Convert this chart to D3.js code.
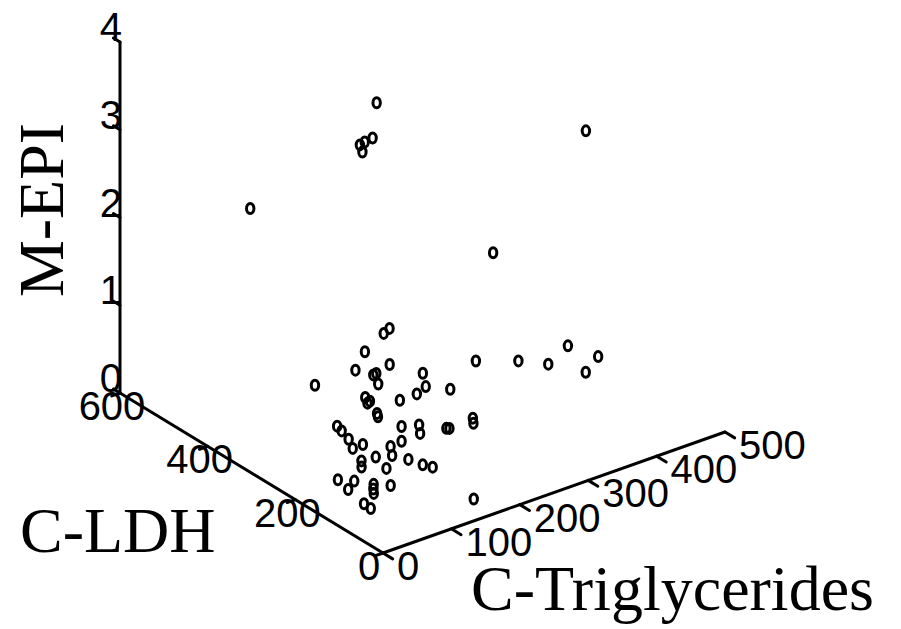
<!DOCTYPE html>
<html>
<head>
<meta charset="utf-8">
<script src="https://d3js.org/d3.v7.min.js"></script>
<style>
  body { margin: 0; background: #fff; }
  svg { display: block; }
  .axis-line { stroke: #000; stroke-width: 3; fill: none; stroke-linecap: round; }
  .tick-num { font-family: "Liberation Sans", Arial, sans-serif; font-size: 40px; fill: #000; }
  .axis-title { font-family: "Liberation Serif", "Times New Roman", serif; font-size: 64px; fill: #000; }
</style>
</head>
<body>
<svg width="901" height="629"></svg>
<script>
var svg = d3.select("svg");

// C-Triglycerides, C-LDH, M-EPI for each patient
var triglycerides = [265, 469, 261, 252, 261, 257, 134, 318, 214, 201,
  169, 419, 444, 271, 337, 373, 422, 186, 159, 155,
  160, 159, 230, 112, 231, 199, 193, 181, 140, 152,
  160, 140, 149, 156, 188, 176, 208, 224, 248, 254,
  97, 94, 101, 91, 93, 129, 130, 147, 99, 80,
  84, 105, 139, 144, 163, 43, 56, 51, 69, 75,
  82, 83, 44, 43, 166];
var ldh = [428, 269, 431, 446, 449, 448, 512, 245, 319, 312,
  305, 232, 202, 211, 217, 205, 196, 275, 311, 264,
  265, 259, 268, 330, 207, 213, 224, 244, 259, 267,
  285, 232, 244, 201, 211, 190, 180, 198, 182, 190,
  256, 241, 236, 211, 191, 184, 182, 187, 171, 174,
  180, 156, 159, 134, 141, 170, 153, 159, 129, 139,
  149, 112, 112, 95, 52];
var epi = [3.1, 2.7, 2.7, 2.6, 2.6, 2.5, 2.0, 1.8, 1.0, 1.0,
  0.9, 0.5, 0.4, 0.8, 0.6, 0.5, 0.3, 0.8, 0.7, 0.8,
  0.8, 0.7, 0.6, 0.6, 0.6, 0.7, 0.6, 0.5, 0.6, 0.5,
  0.4, 0.5, 0.4, 0.4, 0.3, 0.3, 0.3, 0.2, 0.3, 0.2,
  0.4, 0.4, 0.3, 0.3, 0.4, 0.3, 0.2, 0.3, 0.3, 0.3,
  0.2, 0.2, 0.2, 0.2, 0.1, 0.2, 0.2, 0.1, 0.2, 0.1,
  0.0, 0.2, 0.1, 0.1, 0.0];

var trigTicks = [0, 100, 200, 300, 400, 500];
var ldhTicks = [0, 200, 400, 600];
var epiTicks = [0, 1, 2, 3, 4];

// oblique projection of the 3d box onto the page
var origin = [383, 553];
var trigX = d3.scaleLinear().domain([0, 500]).range([0, 342]);
var trigY = d3.scaleLinear().domain([0, 500]).range([0, -121]);
var ldhX = d3.scaleLinear().domain([0, 600]).range([0, -263]);
var ldhY = d3.scaleLinear().domain([0, 600]).range([0, -160]);
var epiY = d3.scaleLinear().domain([0, 4]).range([0, -351]);

function proj(t, l, e) {
  return [origin[0] + trigX(t) + ldhX(l),
          origin[1] + trigY(t) + ldhY(l) + epiY(e)];
}

var line = d3.line();

// axis lines
var axes = [
  [proj(0, 0, 0), proj(500, 0, 0)],
  [proj(0, 0, 0), proj(0, 600, 0)],
  [proj(0, 600, 0), proj(0, 600, 4)]
];
svg.append("g").selectAll("path")
  .data(axes)
  .enter().append("path")
    .attr("class", "axis-line")
    .attr("d", line);

// ticks
var g = svg.append("g");
g.selectAll(".ttick")
  .data(trigTicks)
  .enter().append("path")
    .attr("class", "axis-line ttick")
    .attr("d", function(d) { return line([proj(d, 0, 0), proj(d, -22, 0)]); });
g.selectAll(".ltick")
  .data(ldhTicks)
  .enter().append("path")
    .attr("class", "axis-line ltick")
    .attr("d", function(d) { return line([proj(0, d, 0), proj(-12, d, 0)]); });
g.selectAll(".etick")
  .data(epiTicks)
  .enter().append("path")
    .attr("class", "axis-line etick")
    .attr("d", function(d) { return line([proj(0, 600, d), proj(0, 615, d)]); });

// tick labels
g.selectAll(".tlab")
  .data(trigTicks)
  .enter().append("text")
    .attr("class", "tick-num tlab")
    .attr("x", function(d) { return proj(d, 0, 0)[0] + 14; })
    .attr("y", function(d) { return proj(d, 0, 0)[1] + 27; })
    .attr("text-anchor", "start")
    .text(function(d) { return d; });
g.selectAll(".llab")
  .data(ldhTicks)
  .enter().append("text")
    .attr("class", "tick-num llab")
    .attr("x", function(d) { return proj(0, d, 0)[0] - (d == 0 ? 14 : 8); })
    .attr("y", function(d) { return proj(0, d, 0)[1] + 27; })
    .attr("text-anchor", "middle")
    .text(function(d) { return d; });
g.selectAll(".elab")
  .data(epiTicks)
  .enter().append("text")
    .attr("class", "tick-num elab")
    .attr("x", function(d) { return proj(0, 600, d)[0] + 2; })
    .attr("y", function(d) { return proj(0, 600, d)[1] - 1; })
    .attr("text-anchor", "end")
    .text(function(d) { return d; });

// points
var pts = triglycerides.map(function(t, i) { return proj(t, ldh[i], epi[i]); });
svg.append("g").selectAll("ellipse")
  .data(pts)
  .enter().append("ellipse")
    .attr("cx", function(d) { return d[0]; })
    .attr("cy", function(d) { return d[1]; })
    .attr("rx", 3.7)
    .attr("ry", 5.0)
    .attr("fill", "none")
    .attr("stroke", "#000")
    .attr("stroke-width", 3);

// axis titles
svg.append("text")
  .attr("class", "axis-title")
  .attr("x", 471)
  .attr("y", 610)
  .text("C-Triglycerides");
svg.append("text")
  .attr("class", "axis-title")
  .attr("x", 20)
  .attr("y", 552)
  .text("C-LDH");
svg.append("text")
  .attr("class", "axis-title")
  .attr("transform", "translate(63,210) rotate(-90)")
  .attr("text-anchor", "middle")
  .text("M-EPI");
</script>
</body>
</html>
